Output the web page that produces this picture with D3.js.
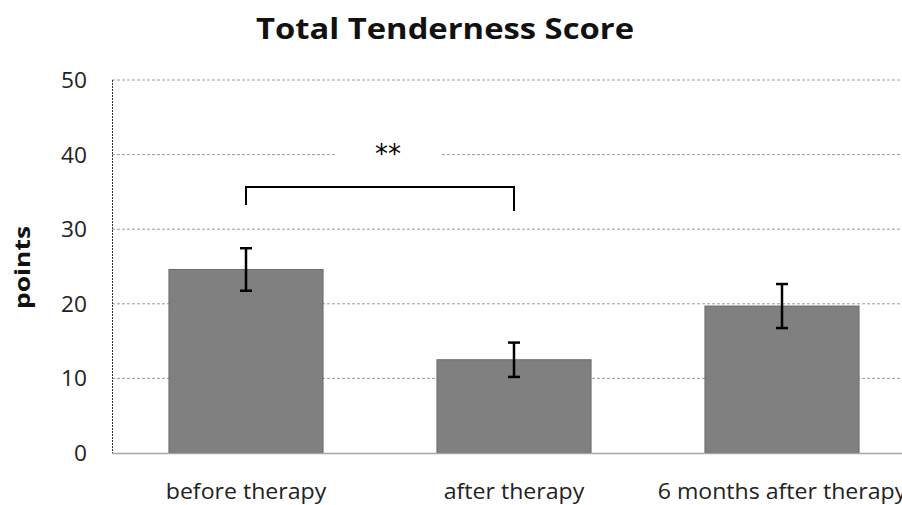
<!DOCTYPE html>
<html>
<head>
<meta charset="utf-8">
<script src="https://d3js.org/d3.v7.min.js"></script>
<style>
  body { margin: 0; background: #fff; }
  svg { display: block; font-family: "Open Sans", sans-serif; }
</style>
</head>
<body>
<svg id="chart" width="902" height="505"></svg>
<script>
// chart data
const categories = ['before therapy', 'after therapy', '6 months after therapy'];
const means = [24.6, 12.5, 19.7];
const errors = [2.85, 2.3, 2.95];
const yTicks = [0, 10, 20, 30, 40, 50];
const bracketPair = [0, 1];
const bracketLabel = '**';

const svg = d3.select('#chart');
const plotLeft = 112, plotTop = 80, plotBottom = 453, plotRight = 916;

const x = d3.scaleBand()
    .domain(categories)
    .range([plotLeft, plotRight])
    .paddingInner(0.425)
    .paddingOuter(0.2125);

const y = d3.scaleLinear()
    .domain([0, 50])
    .range([plotBottom, plotTop]);

// the source font is wider than Open Sans, stretch text along its baseline
const place = (px, py, sx, rot) =>
    `translate(${px},${py})` + (rot ? ` rotate(${rot})` : '') + ` scale(${sx},1)`;

// title
svg.append('text')
    .attr('transform', place(445, 39, 1.13))
    .attr('text-anchor', 'middle')
    .attr('font-size', '29px')
    .attr('font-weight', 'bold')
    .attr('fill', '#111')
    .text('Total Tenderness Score');

// y axis label
svg.append('text')
    .attr('transform', place(30, y(25) + 1, 1.2, -90))
    .attr('text-anchor', 'middle')
    .attr('font-size', '22px')
    .attr('font-weight', 'bold')
    .attr('fill', '#111')
    .text('points');

// gridlines
svg.append('g').selectAll('line')
    .data(yTicks.filter(d => d > 0))
    .enter().append('line')
    .attr('x1', plotLeft).attr('x2', 902)
    .attr('y1', d => y(d)).attr('y2', d => y(d))
    .attr('stroke', '#9a9a9a')
    .attr('stroke-width', 1)
    .attr('stroke-dasharray', '3,2');

// tick labels
svg.append('g').selectAll('text')
    .data(yTicks)
    .enter().append('text')
    .attr('transform', d => place(87, y(d) + 8, 1.08))
    .attr('text-anchor', 'end')
    .attr('font-size', '21px')
    .attr('fill', '#222')
    .text(d => d);

// left axis (dashed)
svg.append('line')
    .attr('x1', plotLeft + 0.5).attr('x2', plotLeft + 0.5)
    .attr('y1', y(50)).attr('y2', plotBottom)
    .attr('stroke', '#333')
    .attr('stroke-dasharray', '2,1');

// bars
svg.append('g').selectAll('rect')
    .data(means)
    .enter().append('rect')
    .attr('x', (d, i) => x(categories[i]))
    .attr('y', d => y(d))
    .attr('width', x.bandwidth())
    .attr('height', d => plotBottom - y(d))
    .attr('fill', '#808080')
    .attr('stroke', '#6a6a6a')
    .attr('stroke-width', 1);

// baseline
svg.append('line')
    .attr('x1', plotLeft).attr('x2', 902)
    .attr('y1', plotBottom + 0.5).attr('y2', plotBottom + 0.5)
    .attr('stroke', '#a6a6a6')
    .attr('stroke-width', 1.5);

// error bars
const eb = svg.append('g')
    .attr('stroke', '#000')
    .attr('stroke-width', 2.5);
means.forEach((m, i) => {
    const cx = x(categories[i]) + x.bandwidth() / 2;
    eb.append('line')
        .attr('x1', cx).attr('x2', cx)
        .attr('y1', y(m - errors[i])).attr('y2', y(m + errors[i]));
    [m - errors[i], m + errors[i]].forEach(v => {
        eb.append('line')
            .attr('x1', cx - 6).attr('x2', cx + 6)
            .attr('y1', y(v)).attr('y2', y(v));
    });
});

// significance bracket
const bx1 = x(categories[bracketPair[0]]) + x.bandwidth() / 2;
const bx2 = x(categories[bracketPair[1]]) + x.bandwidth() / 2;
svg.append('path')
    .attr('d', `M${bx1},205 V187 H${bx2} V211`)
    .attr('fill', 'none')
    .attr('stroke', '#000')
    .attr('stroke-width', 2);

// white patch behind the stars (hides the gridline)
svg.append('rect')
    .attr('x', 337).attr('y', y(40) - 4)
    .attr('width', 105).attr('height', 8)
    .attr('fill', '#fff');
svg.append('text')
    .attr('x', (bx1 + bx2) / 2 + 8)
    .attr('y', 163)
    .attr('text-anchor', 'middle')
    .attr('font-size', '26px')
    .attr('font-family', '"DejaVu Sans", sans-serif')
    .attr('fill', '#000')
    .text(bracketLabel);

// category labels
svg.append('g').selectAll('text')
    .data(categories)
    .enter().append('text')
    .attr('transform', d => place(x(d) + x.bandwidth() / 2, 499, 1.1))
    .attr('text-anchor', 'middle')
    .attr('font-size', '21px')
    .attr('fill', '#222')
    .text(d => d);
</script>
</body>
</html>
